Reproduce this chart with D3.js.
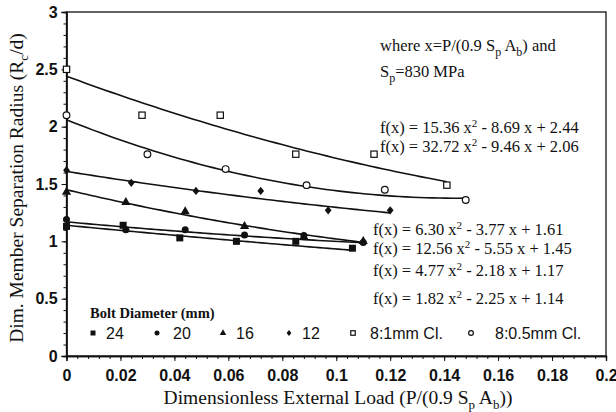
<!DOCTYPE html>
<html>
<head>
<meta charset="utf-8">
<script src="https://cdn.jsdelivr.net/npm/d3@7"></script>
<style>
  body { margin: 0; background: #fff; }
  svg { display: block; }
</style>
</head>
<body>
<svg id="chart" width="616" height="412"></svg>
<script>
// bolt diameter series (mm) and clamp-length series
const seriesNames = ["24", "20", "16", "12", "8:1mm Cl.", "8:0.5mm Cl."];
const markers = ["square", "circle", "triangle", "diamond", "openSquare", "openCircle"];

const load24 = [0, 0.021, 0.042, 0.063, 0.085, 0.106];
const rad24 = [1.13, 1.14, 1.03, 1.00, 1.00, 0.94];
const load20 = [0, 0.022, 0.044, 0.066, 0.088, 0.110];
const rad20 = [1.19, 1.10, 1.10, 1.055, 1.05, 0.99];
const load16 = [0, 0.022, 0.044, 0.066, 0.088, 0.110];
const rad16 = [1.43, 1.34, 1.26, 1.13, 1.04, 1.00];
const load12 = [0, 0.024, 0.048, 0.072, 0.097, 0.120];
const rad12 = [1.62, 1.51, 1.44, 1.44, 1.27, 1.27];
const load8a = [0, 0.028, 0.057, 0.085, 0.114, 0.141];
const rad8a = [2.50, 2.10, 2.10, 1.76, 1.76, 1.49];
const load8b = [0, 0.030, 0.059, 0.089, 0.118, 0.148];
const rad8b = [2.10, 1.76, 1.63, 1.49, 1.45, 1.36];

// quadratic fit coefficients [a, b, c] for f(x) = a x^2 + b x + c
const fit24 = [1.82, -2.25, 1.14];
const fit20 = [4.77, -2.18, 1.17];
const fit16 = [12.56, -5.55, 1.45];
const fit12 = [6.30, -3.77, 1.61];
const fit8a = [15.36, -8.69, 2.44];
const fit8b = [32.72, -9.46, 2.06];

const xTicks = [0, 0.02, 0.04, 0.06, 0.08, 0.1, 0.12, 0.14, 0.16, 0.18, 0.2];
const yTicks = [0, 0.5, 1, 1.5, 2, 2.5, 3];

const loads = [load24, load20, load16, load12, load8a, load8b];
const radii = [rad24, rad20, rad16, rad12, rad8a, rad8b];
const fits = [fit24, fit20, fit16, fit12, fit8a, fit8b];

const svg = d3.select("#chart");
const x = d3.scaleLinear().domain([0, 0.2]).range([66.5, 606]);
const y = d3.scaleLinear().domain([0, 3]).range([356, 12]);

const serif = "'Liberation Serif', 'Times New Roman', serif";
const sans = "'Liberation Sans', Arial, sans-serif";

// frame
svg.append("rect")
  .attr("x", x(0)).attr("y", y(3))
  .attr("width", x(0.2) - x(0)).attr("height", y(0) - y(3))
  .attr("fill", "none").attr("stroke", "#111").attr("stroke-width", 1.3);

// axes
const xAxis = svg.append("g").attr("transform", `translate(0,${y(0)})`)
  .call(d3.axisBottom(x).tickValues(xTicks).tickSize(5)
    .tickFormat(d => d === 0 ? "0" : d3.format(".2~f")(d)));
svg.append("g").attr("transform", `translate(0,${y(0)})`)
  .call(d3.axisBottom(x).tickValues(d3.range(0, 0.2001, 0.004)).tickSize(3).tickFormat(""));
const yAxis = svg.append("g").attr("transform", `translate(${x(0)},0)`)
  .call(d3.axisLeft(y).tickValues(yTicks).tickSize(5).tickFormat(d3.format("~g")));
svg.append("g").attr("transform", `translate(${x(0)},0)`)
  .call(d3.axisLeft(y).tickValues(d3.range(0, 3.001, 0.1)).tickSize(3).tickFormat(""));

svg.selectAll(".domain").attr("stroke", "#111").attr("stroke-width", 1.3);
svg.selectAll(".tick line").attr("stroke", "#111");
xAxis.selectAll("text").attr("font-family", sans).attr("font-size", 16)
  .attr("font-weight", "bold").attr("fill", "#111").attr("dy", "1.05em");
yAxis.selectAll("text").attr("font-family", sans).attr("font-size", 16)
  .attr("font-weight", "bold").attr("fill", "#111").attr("dx", "-0.05em");

// axis titles
const xt = svg.append("text").attr("x", 338).attr("y", 404)
  .attr("text-anchor", "middle").attr("font-family", serif).attr("font-size", 19.5).attr("fill", "#111");
xt.append("tspan").text("Dimensionless External Load (P/(0.9 S");
xt.append("tspan").attr("dy", 5).attr("font-size", 13).text("p");
xt.append("tspan").attr("dy", -5).text(" A");
xt.append("tspan").attr("dy", 5).attr("font-size", 13).text("b");
xt.append("tspan").attr("dy", -5).text("))");

const yt = svg.append("text").attr("transform", "translate(23,188) rotate(-90)")
  .attr("text-anchor", "middle").attr("font-family", serif).attr("font-size", 19.5).attr("fill", "#111");
yt.append("tspan").text("Dim. Member Separation Radius (R");
yt.append("tspan").attr("dy", 5).attr("font-size", 13).text("c");
yt.append("tspan").attr("dy", -5).text("/d)");

// fitted curves
const line = d3.line().x(d => x(d[0])).y(d => y(d[1]));
fits.forEach((f, i) => {
  const xEnd = d3.max(loads[i]);
  const pts = d3.range(0, 61).map(k => {
    const v = xEnd * k / 60;
    return [v, f[0] * v * v + f[1] * v + f[2]];
  });
  svg.append("path").attr("d", line(pts))
    .attr("fill", "none").attr("stroke", "#111").attr("stroke-width", 1.6);
});

// marker drawing
function drawMarker(g, type, cx, cy, s) {
  if (type === "square") {
    g.append("rect").attr("x", cx - s * 0.5).attr("y", cy - s * 0.5)
      .attr("width", s).attr("height", s).attr("fill", "#111");
  } else if (type === "circle") {
    g.append("circle").attr("cx", cx).attr("cy", cy).attr("r", s * 0.5).attr("fill", "#111");
  } else if (type === "triangle") {
    g.append("path").attr("d", d3.symbol(d3.symbolTriangle, s * s * 0.75)())
      .attr("transform", `translate(${cx},${cy})`).attr("fill", "#111");
  } else if (type === "diamond") {
    const h = s * 0.6;
    g.append("path").attr("d", `M${cx},${cy - h}L${cx + h * 0.8},${cy}L${cx},${cy + h}L${cx - h * 0.8},${cy}Z`)
      .attr("fill", "#111");
  } else if (type === "openSquare") {
    g.append("rect").attr("x", cx - s * 0.45).attr("y", cy - s * 0.45)
      .attr("width", s * 0.9).attr("height", s * 0.9)
      .attr("fill", "#fff").attr("stroke", "#111").attr("stroke-width", 1.2);
  } else {
    g.append("circle").attr("cx", cx).attr("cy", cy).attr("r", s * 0.48)
      .attr("fill", "#fff").attr("stroke", "#111").attr("stroke-width", 1.2);
  }
}

const pointsG = svg.append("g");
loads.forEach((xs, i) => {
  xs.forEach((v, j) => drawMarker(pointsG, markers[i], x(v), y(radii[i][j]), 7));
});

// annotation text
function eqText(tx, ty, a, rest) {
  const t = svg.append("text").attr("x", tx).attr("y", ty)
    .attr("font-family", serif).attr("font-size", 16.5).attr("fill", "#111");
  t.append("tspan").text(`f(x) = ${a} x`);
  t.append("tspan").attr("dy", -6).attr("font-size", 11).text("2");
  t.append("tspan").attr("dy", 6).text(` ${rest}`);
}

const w = svg.append("text").attr("x", 380).attr("y", 51)
  .attr("font-family", serif).attr("font-size", 16.5).attr("fill", "#111");
w.append("tspan").text("where x=P/(0.9 S");
w.append("tspan").attr("dy", 5).attr("font-size", 12).text("p");
w.append("tspan").attr("dy", -5).text(" A");
w.append("tspan").attr("dy", 5).attr("font-size", 12).text("b");
w.append("tspan").attr("dy", -5).text(") and");
const sp = svg.append("text").attr("x", 380).attr("y", 77)
  .attr("font-family", serif).attr("font-size", 16.5).attr("fill", "#111");
sp.append("tspan").text("S");
sp.append("tspan").attr("dy", 5).attr("font-size", 12).text("p");
sp.append("tspan").attr("dy", -5).text("=830 MPa");

const fmt = d3.format(".2f");
// order in picture: 8:1mm, 8:0.5mm at top; 12, 16, 20, 24 below
const eqPos = [[373, 304], [373, 276], [373, 254], [373, 235], [380, 133], [380, 152]];
fits.forEach((f, i) => {
  const [ex, ey] = eqPos[i];
  eqText(ex, ey, fmt(f[0]), `- ${fmt(-f[1])} x + ${fmt(f[2])}`);
});

// legend
svg.append("text").attr("x", 90).attr("y", 318)
  .attr("font-family", serif).attr("font-size", 14.5).attr("font-weight", "bold")
  .attr("fill", "#111").text("Bolt Diameter (mm)");
const legX = [93, 157, 223, 289, 353, 471];
const legTextX = [106, 173, 236, 302, 370, 495];
const legG = svg.append("g");
seriesNames.forEach((n, i) => {
  drawMarker(legG, markers[i], legX[i], 333, 5);
  legG.append("text").attr("x", legTextX[i]).attr("y", 339)
    .attr("font-family", sans).attr("font-size", 16).attr("fill", "#111").text(n);
});
</script>
</body>
</html>
